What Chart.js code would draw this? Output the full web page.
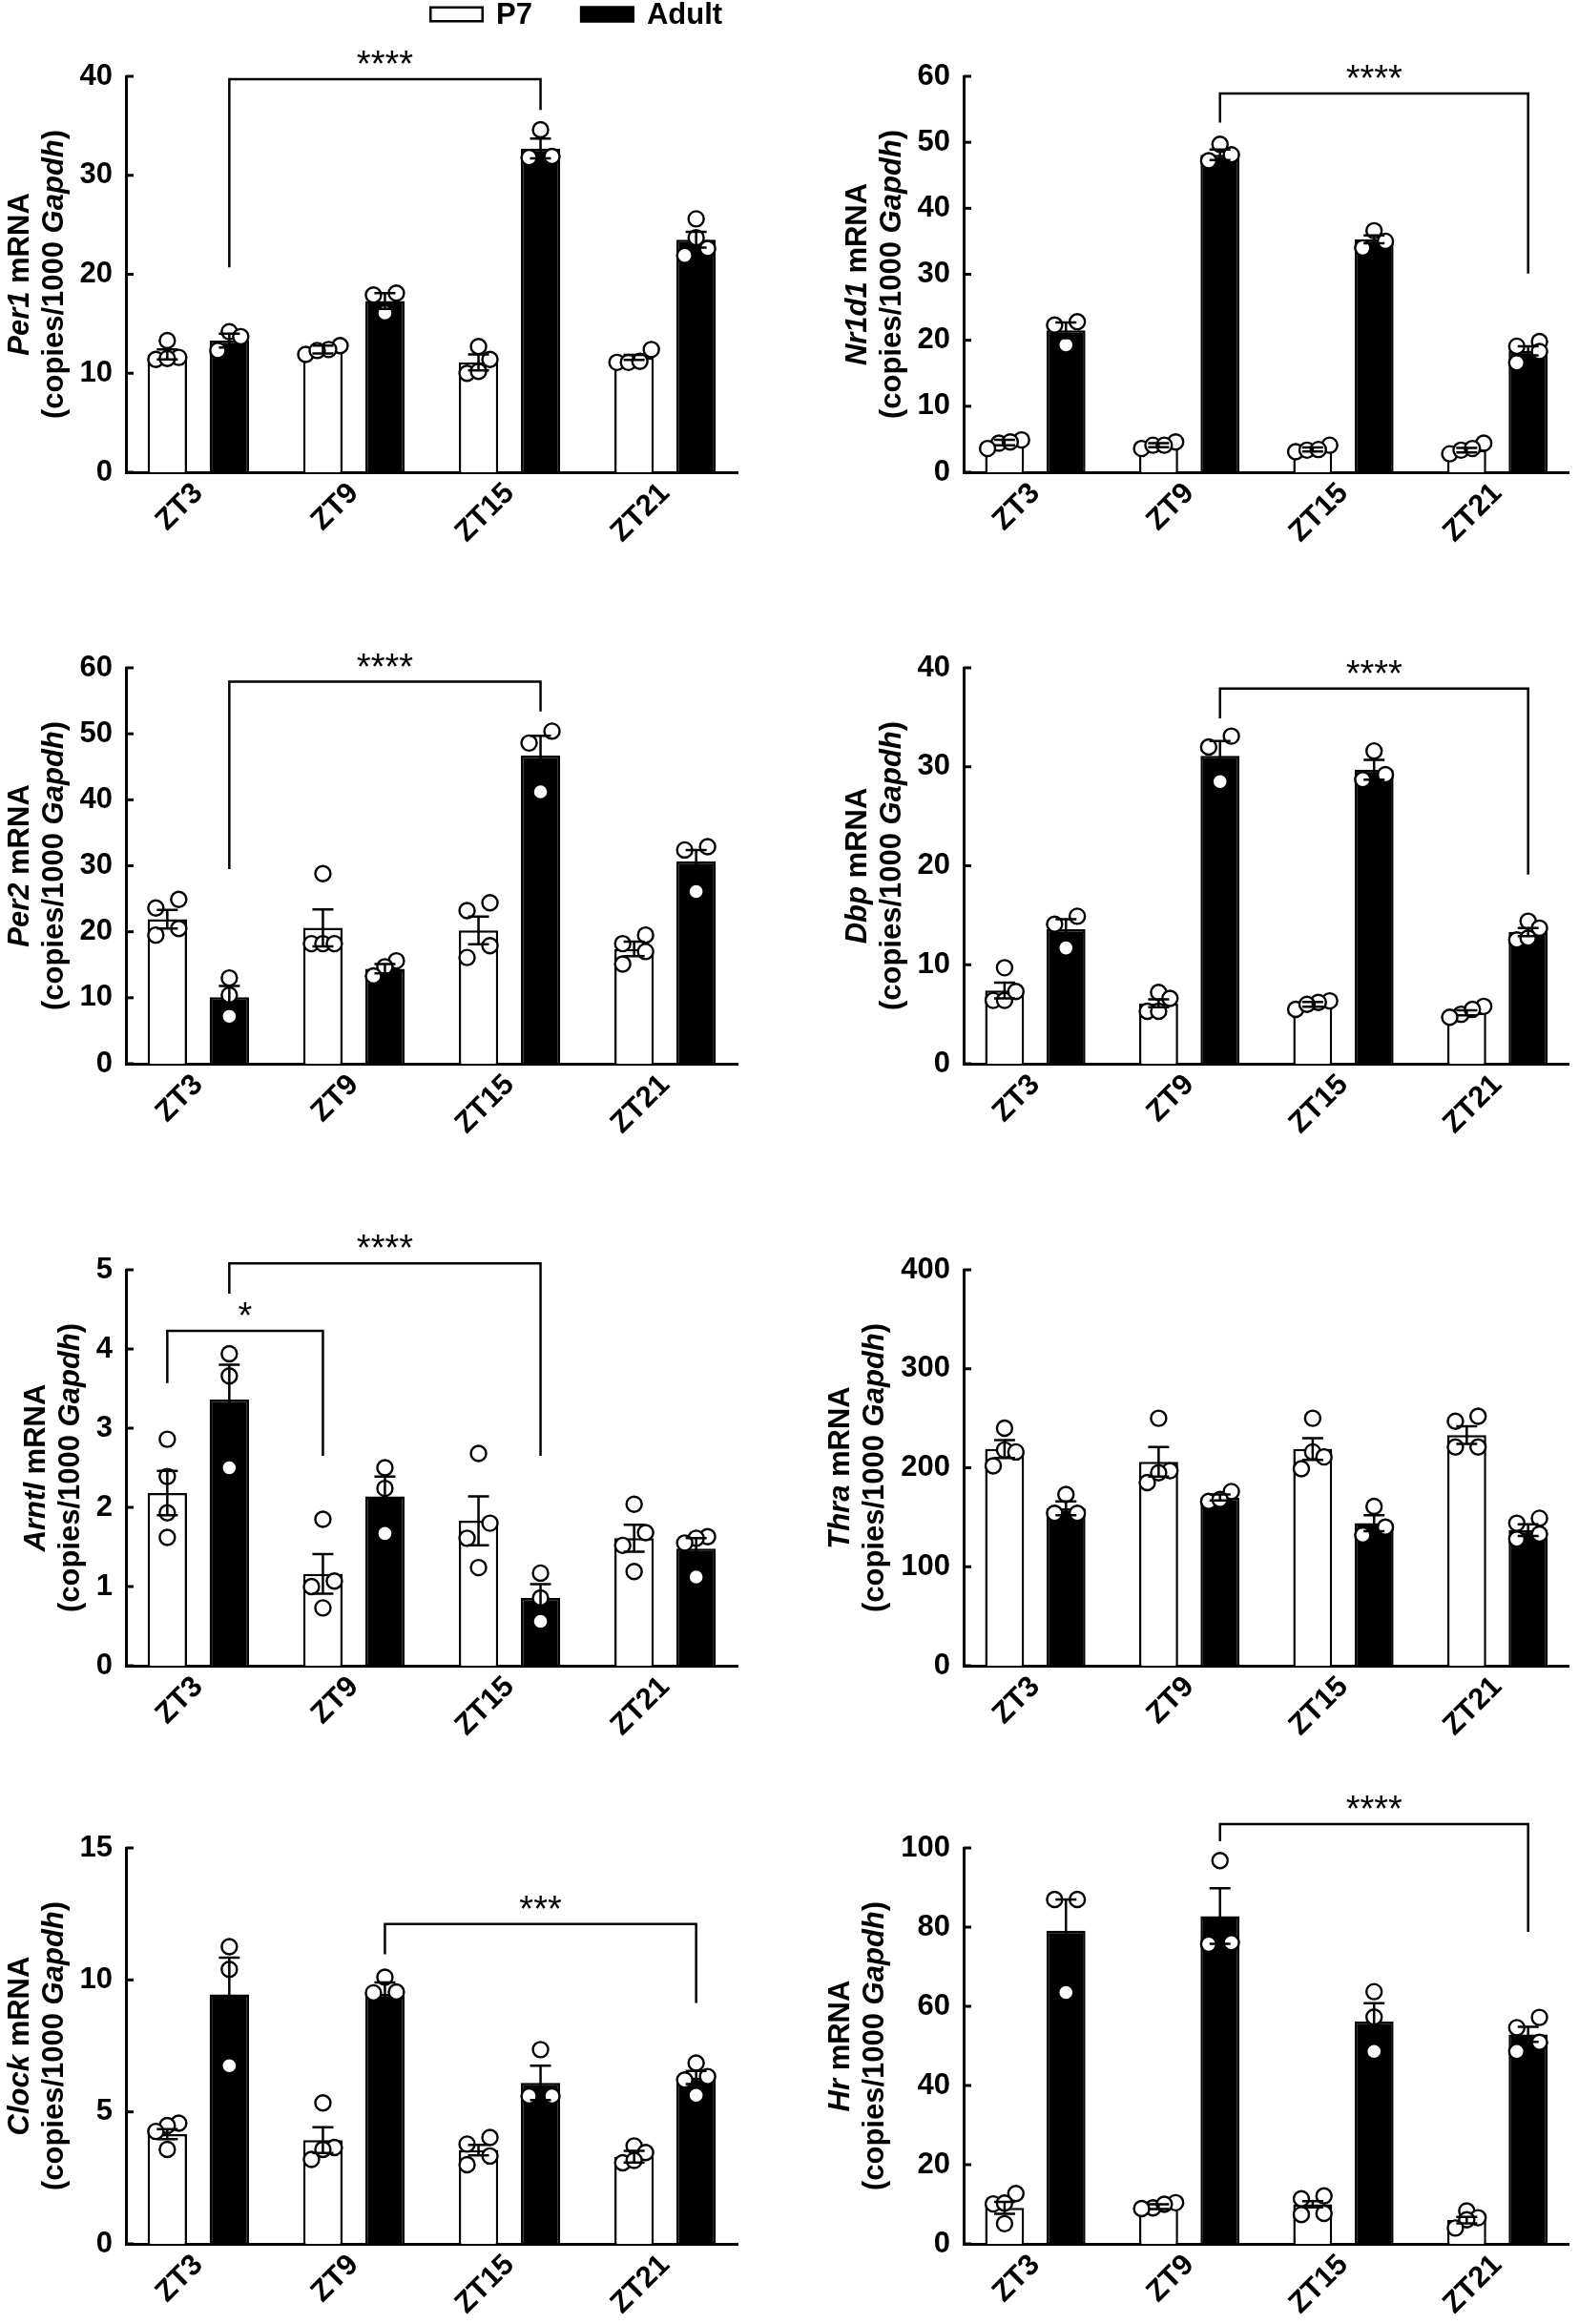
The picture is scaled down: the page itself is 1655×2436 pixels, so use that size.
<!DOCTYPE html>
<html>
<head>
<meta charset="utf-8">
<title>Clock gene mRNA, P7 vs Adult</title>
<script src="https://cdn.jsdelivr.net/npm/chart.js@4.4.1/dist/chart.umd.min.js"></script>
<style>
  body { margin: 0; background: #fff; }
  #fig { position: relative; width: 1655px; height: 2436px; background: #fff; }
  #fig canvas { position: absolute; }
</style>
</head>
<body>
<div id="fig"></div>
<script>
const zt = ['ZT3', 'ZT9', 'ZT15', 'ZT21'];
const seriesNames = ['P7', 'Adult'];

// Per1
const per1P7 = [11.9, 12.4, 11.1, 11.6];
const per1P7Sem = [0.5, 0.4, 0.8, 0.25];
const per1Adult = [13.3, 17.3, 32.7, 23.5];
const per1AdultSem = [0.7, 0.8, 1.0, 0.8];
const per1P7Pts = [[11.4, 13.3, 11.6, 11.5], [11.9, 12.8, 12.4, 12.3], [10.0, 11.4, 12.7, 10.2], [12.4, 11.1, 11.1, 11.2]];
const per1AdultPts = [[14.2, 13.7, 12.3], [18.1, 17.9, 16.1], [34.6, 31.8, 31.9], [25.6, 23.7, 22.6, 21.9]];
const per1Sig = [{ from: [0, 1], to: [2, 1], y: 39.7, ends: [20.7, 36.6], text: '****' }];

// Nr1d1
const nr1d1P7 = [4.5, 4.1, 3.45, 3.35];
const nr1d1P7Sem = [0.4, 0.3, 0.3, 0.35];
const nr1d1Adult = [21.5, 48.1, 35.3, 18.4];
const nr1d1AdultSem = [1.2, 0.8, 0.6, 0.7];
const nr1d1P7Pts = [[4.9, 4.4, 3.6, 4.6], [4.6, 3.6, 4.1, 4.1], [4.1, 3.1, 3.35, 3.45], [4.4, 2.8, 3.35, 3.6]];
const nr1d1AdultPts = [[22.8, 22.3, 19.3], [49.7, 48.1, 47.2], [36.6, 35.0, 34.0], [19.8, 19.1, 18.3, 16.6]];
const nr1d1Sig = [{ from: [1, 1], to: [3, 1], y: 57.4, ends: [53.0, 30.1], text: '****' }];

// Per2
const per2P7 = [21.9, 20.6, 20.2, 17.4];
const per2P7Sem = [1.4, 2.8, 2.1, 1.1];
const per2Adult = [10.1, 14.4, 46.7, 30.7];
const per2AdultSem = [1.7, 0.7, 3.0, 1.7];
const per2P7Pts = [[24.9, 23.6, 20.5, 19.5], [28.8, 18.2, 18.2, 18.2], [24.4, 23.2, 17.9, 16.1], [19.5, 18.2, 17.0, 15.1]];
const per2AdultPts = [[13.0, 10.4, 7.2], [15.6, 14.7, 13.3], [50.4, 48.6, 41.2], [32.9, 32.4, 26.1]];
const per2Sig = [{ from: [0, 1], to: [2, 1], y: 57.9, ends: [29.5, 53.4], text: '****' }];

// Dbp
const dbpP7 = [7.4, 6.1, 6.0, 5.15];
const dbpP7Sem = [0.8, 0.4, 0.25, 0.25];
const dbpAdult = [13.6, 31.1, 29.7, 13.3];
const dbpAdultSem = [1.0, 1.5, 1.0, 0.4];
const dbpP7Pts = [[9.7, 6.4, 6.4, 7.3], [7.2, 6.6, 5.3, 5.3], [6.35, 6.2, 5.5, 6.0], [5.8, 5.0, 5.5, 4.7]];
const dbpAdultPts = [[14.9, 14.1, 11.7], [33.1, 32.0, 28.5], [31.6, 29.2, 28.7], [14.4, 13.7, 12.5, 12.7]];
const dbpSig = [{ from: [1, 1], to: [3, 1], y: 37.9, ends: [34.9, 19.1], text: '****' }];

// Arntl
const arntlP7 = [2.18, 1.16, 1.83, 1.61];
const arntlP7Sem = [0.28, 0.25, 0.31, 0.17];
const arntlAdult = [3.36, 2.14, 0.855, 1.48];
const arntlAdultSem = [0.44, 0.25, 0.175, 0.13];
const arntlP7Pts = [[2.86, 2.39, 1.93, 1.62], [1.85, 1.07, 1.0, 0.73], [2.68, 1.80, 1.61, 1.24], [2.04, 1.68, 1.52, 1.19]];
const arntlAdultPts = [[3.94, 3.66, 2.50], [2.50, 2.24, 1.67], [1.17, 0.855, 0.56], [1.63, 1.61, 1.55, 1.12]];
const arntlSig = [
  { from: [0, 1], to: [2, 1], y: 5.08, ends: [4.70, 2.65], text: '****' },
  { from: [0, 0], to: [1, 0], y: 4.23, ends: [3.57, 2.65], text: '*' }
];

// Thra
const thraP7 = [219, 206, 219, 233];
const thraP7Sem = [9, 15, 11, 9];
const thraAdult = [159, 170, 144, 137];
const thraAdultSem = [7, 3, 8, 6];
const thraP7Pts = [[240, 218, 216, 202], [250, 197, 195, 185], [250, 216, 211, 199], [252, 247, 221, 221]];
const thraAdultPts = [[173, 154, 154], [176, 166, 168], [161, 140, 132], [149, 144, 133, 128]];
const thraSig = [];

// Clock
const clockP7 = [4.16, 3.93, 3.55, 3.3];
const clockP7Sem = [0.19, 0.49, 0.2, 0.22];
const clockAdult = [9.45, 9.47, 6.1, 6.3];
const clockAdultSem = [1.39, 0.43, 0.65, 0.25];
const clockP7Pts = [[4.57, 4.48, 4.26, 3.58], [5.34, 3.65, 3.58, 3.2], [4.03, 3.78, 3.33, 3.0], [3.71, 3.46, 3.07, 3.16]];
const clockAdultPts = [[11.26, 10.4, 6.75], [10.1, 9.54, 9.51], [7.36, 5.6, 5.6], [6.85, 6.34, 6.21, 5.63]];
const clockSig = [{ from: [1, 1], to: [3, 1], y: 12.12, ends: [10.97, 9.13], text: '***' }];

// Hr
const hrP7 = [9.1, 9.4, 10.0, 6.0];
const hrP7Sem = [1.5, 0.6, 0.8, 0.8];
const hrAdult = [79.1, 82.8, 56.2, 52.9];
const hrAdultSem = [7.9, 7.0, 4.6, 1.9];
const hrP7Pts = [[12.7, 10.1, 10.3, 5.1], [10.4, 9.1, 10.0, 8.9], [12.1, 11.4, 7.7, 7.4], [8.3, 6.6, 6.1, 4.0]];
const hrAdultPts = [[87.0, 87.0, 63.5], [96.8, 75.7, 76.1], [63.7, 57.3, 48.6], [57.2, 54.6, 50.9, 48.6]];
const hrSig = [{ from: [1, 1], to: [3, 1], y: 106.0, ends: [101.7, 78.8], text: '****' }];

const panels = [
  { gene: 'Per1', yMax: 40, step: 10, means: [per1P7, per1Adult], sems: [per1P7Sem, per1AdultSem], pts: [per1P7Pts, per1AdultPts], sig: per1Sig },
  { gene: 'Nr1d1', yMax: 60, step: 10, means: [nr1d1P7, nr1d1Adult], sems: [nr1d1P7Sem, nr1d1AdultSem], pts: [nr1d1P7Pts, nr1d1AdultPts], sig: nr1d1Sig },
  { gene: 'Per2', yMax: 60, step: 10, means: [per2P7, per2Adult], sems: [per2P7Sem, per2AdultSem], pts: [per2P7Pts, per2AdultPts], sig: per2Sig },
  { gene: 'Dbp', yMax: 40, step: 10, means: [dbpP7, dbpAdult], sems: [dbpP7Sem, dbpAdultSem], pts: [dbpP7Pts, dbpAdultPts], sig: dbpSig },
  { gene: 'Arntl', yMax: 5, step: 1, means: [arntlP7, arntlAdult], sems: [arntlP7Sem, arntlAdultSem], pts: [arntlP7Pts, arntlAdultPts], sig: arntlSig },
  { gene: 'Thra', yMax: 400, step: 100, means: [thraP7, thraAdult], sems: [thraP7Sem, thraAdultSem], pts: [thraP7Pts, thraAdultPts], sig: thraSig },
  { gene: 'Clock', yMax: 15, step: 5, means: [clockP7, clockAdult], sems: [clockP7Sem, clockAdultSem], pts: [clockP7Pts, clockAdultPts], sig: clockSig },
  { gene: 'Hr', yMax: 100, step: 20, means: [hrP7, hrAdult], sems: [hrP7Sem, hrAdultSem], pts: [hrP7Pts, hrAdultPts], sig: hrSig }
];

// page layout (pixels)
const colLeft = [0, 827], colWidth = [827, 828], axisLeft = [132, 183], padRight = [54, 4];
const rowTop = [0, 600, 1230, 1840], rowHeight = [600, 630, 610, 596];
const plotTop = [80, 100, 101, 97], xAxisHeight = [105, 115, 94, 84];

const FAMILY = "'Liberation Sans', Arial, Helvetica, sans-serif";
const TICK_FONT = 'bold 31px ' + FAMILY;
Chart.defaults.font.family = FAMILY;
Chart.defaults.color = '#000';

// rotated two-line y title with italic gene names, set off from the widest tick label
const yTitle = {
  id: 'yTitle',
  afterDraw(chart, args, opts) {
    const { ctx, chartArea } = chart;
    const ys = chart.scales.y;
    ctx.save();
    ctx.font = TICK_FONT;
    const labelW = Math.max(...ys.ticks.map(t => ctx.measureText(String(t.label)).width));
    const second = chartArea.left - 14 - labelW - 26.5;
    const xPos = [second - 36, second];
    const cy = (chartArea.top + chartArea.bottom) / 2;
    opts.lines.forEach((parts, li) => {
      ctx.save();
      ctx.translate(xPos[li], cy);
      ctx.rotate(-Math.PI / 2);
      ctx.fillStyle = '#000';
      ctx.textBaseline = 'middle';
      ctx.textAlign = 'left';
      const fonts = parts.map(p => (p.italic ? 'italic ' : '') + 'bold 31px ' + FAMILY);
      let total = 0;
      parts.forEach((p, i) => { ctx.font = fonts[i]; total += ctx.measureText(p.text).width; });
      let x = -total / 2;
      parts.forEach((p, i) => {
        ctx.font = fonts[i];
        ctx.fillText(p.text, x, 0);
        x += ctx.measureText(p.text).width;
      });
      ctx.restore();
    });
    ctx.restore();
  }
};

// short tick marks pointing into the plot
const innerTicks = {
  id: 'innerTicks',
  afterDraw(chart) {
    const { ctx, chartArea } = chart;
    const ys = chart.scales.y;
    ctx.save();
    ctx.strokeStyle = '#000';
    ctx.lineWidth = 3;
    ys.ticks.forEach(t => {
      const py = ys.getPixelForValue(t.value);
      ctx.beginPath();
      ctx.moveTo(chartArea.left, py);
      ctx.lineTo(chartArea.left + 8, py);
      ctx.stroke();
    });
    ctx.restore();
  }
};

// mean +/- SEM, drawn over the points
const errorBars = {
  id: 'errorBars',
  afterDatasetsDraw(chart, args, opts) {
    const { ctx } = chart;
    const ys = chart.scales.y;
    ctx.save();
    ctx.strokeStyle = '#000';
    ctx.lineWidth = 2.5;
    opts.sems.forEach((sem, di) => {
      chart.getDatasetMeta(di).data.forEach((bar, i) => {
        const m = chart.data.datasets[di].data[i].y;
        const hi = ys.getPixelForValue(m + sem[i]);
        const lo = ys.getPixelForValue(m - sem[i]);
        ctx.beginPath();
        ctx.moveTo(bar.x, lo); ctx.lineTo(bar.x, hi);
        ctx.moveTo(bar.x - 11, hi); ctx.lineTo(bar.x + 11, hi);
        ctx.moveTo(bar.x - 11, lo); ctx.lineTo(bar.x + 11, lo);
        ctx.stroke();
      });
    });
    ctx.restore();
  }
};

// significance brackets
const brackets = {
  id: 'brackets',
  afterDatasetsDraw(chart, args, opts) {
    const { ctx } = chart;
    const ys = chart.scales.y;
    ctx.save();
    ctx.strokeStyle = '#000';
    ctx.fillStyle = '#000';
    ctx.lineWidth = 2.5;
    opts.items.forEach(b => {
      const x1 = chart.getDatasetMeta(b.from[1]).data[b.from[0]].x;
      const x2 = chart.getDatasetMeta(b.to[1]).data[b.to[0]].x;
      const top = ys.getPixelForValue(b.y);
      ctx.beginPath();
      ctx.moveTo(x1, ys.getPixelForValue(b.ends[0]));
      ctx.lineTo(x1, top);
      ctx.lineTo(x2, top);
      ctx.lineTo(x2, ys.getPixelForValue(b.ends[1]));
      ctx.stroke();
      ctx.font = '38px ' + FAMILY;
      ctx.textAlign = 'center';
      ctx.textBaseline = 'alphabetic';
      ctx.fillText(b.text, (x1 + x2) / 2, top - 3);
    });
    ctx.restore();
  }
};

// shared legend, drawn once above the first panel
const topLegend = {
  id: 'topLegend',
  afterDraw(chart, args, opts) {
    if (!opts.show) return;
    const { ctx } = chart;
    ctx.save();
    ctx.font = 'bold 31px ' + FAMILY;
    ctx.textBaseline = 'middle';
    ctx.textAlign = 'left';
    let x = 450;
    const y = 15;
    [0, 1].forEach(di => {
      const ds = chart.data.datasets[di];
      ctx.fillStyle = ds.backgroundColor;
      ctx.fillRect(x, y - 8.5, 57, 17);
      ctx.strokeStyle = '#000';
      ctx.lineWidth = 2.5;
      ctx.strokeRect(x + 1.25, y - 7.25, 54.5, 14.5);
      ctx.fillStyle = '#000';
      ctx.fillText(ds.label, x + 70, y + 1);
      x += 70 + ctx.measureText(ds.label).width + 50;
    });
    ctx.restore();
  }
};

// spread points of similar height sideways (Prism-like scatter)
function spread(values, pxPerUnit) {
  const order = values.map((v, i) => i).sort((a, b) => values[a] - values[b]);
  const out = new Array(values.length).fill(0);
  let row = [];
  const flush = () => {
    const n = row.length, s = n === 2 ? 24 : 12;
    row.forEach((idx, k) => { out[idx] = (k - (n - 1) / 2) * s; });
    row = [];
  };
  order.forEach(idx => {
    if (row.length && (values[idx] - values[row[0]]) * pxPerUnit >= 16) flush();
    row.push(idx);
  });
  flush();
  return out;
}

const fig = document.getElementById('fig');

panels.forEach((p, pi) => {
  const col = pi % 2, row = Math.floor(pi / 2);
  const canvas = document.createElement('canvas');
  canvas.width = colWidth[col];
  canvas.height = rowHeight[row];
  canvas.style.left = colLeft[col] + 'px';
  canvas.style.top = rowTop[row] + 'px';
  fig.appendChild(canvas);

  const barData = s => p.means[s].map((v, i) => ({ x: i, y: v }));
  const pointStyle = { type: 'scatter', data: [], pointRadius: 8, pointHoverRadius: 8, borderWidth: 2.4,
    backgroundColor: '#fff', borderColor: '#000', order: 0, clip: false };

  const chart = new Chart(canvas, {
    type: 'bar',
    data: {
      datasets: [
        { label: seriesNames[0], data: barData(0), backgroundColor: '#fff', borderColor: '#000', borderWidth: 2.5, order: 2 },
        { label: seriesNames[1], data: barData(1), backgroundColor: '#000', borderColor: '#000', borderWidth: 2.5, order: 2 },
        Object.assign({ label: seriesNames[0] + ' points' }, pointStyle),
        Object.assign({ label: seriesNames[1] + ' points' }, pointStyle)
      ]
    },
    options: {
      responsive: false,
      animation: false,
      categoryPercentage: 0.797,
      barPercentage: 0.635,
      layout: { padding: { top: plotTop[row], right: padRight[col], left: 0, bottom: 0 } },
      scales: {
        x: {
          type: 'linear',
          min: -0.465,
          max: 3.465,
          offset: false,
          afterBuildTicks: scale => { scale.ticks = zt.map((z, i) => ({ value: i })); },
          afterFit: scale => { scale.height = xAxisHeight[row]; },
          ticks: {
            callback: v => zt[v],
            minRotation: 45,
            maxRotation: 45,
            padding: 4,
            font: { size: 31, weight: 'bold' },
            color: '#000'
          },
          grid: { display: false, drawTicks: false },
          border: { display: true, width: 3, color: '#000' }
        },
        y: {
          min: 0,
          max: p.yMax,
          afterFit: scale => { scale.width = axisLeft[col]; },
          ticks: { stepSize: p.step, padding: 14, font: { size: 31, weight: 'bold' }, color: '#000' },
          grid: { display: false, drawTicks: false },
          border: { display: true, width: 3, color: '#000' }
        }
      },
      plugins: {
        legend: { display: false },
        tooltip: { enabled: false },
        yTitle: {
          lines: [
            [{ text: p.gene, italic: true }, { text: ' mRNA', italic: false }],
            [{ text: '(copies/1000 ', italic: false }, { text: 'Gapdh', italic: true }, { text: ')', italic: false }]
          ]
        },
        errorBars: { sems: p.sems },
        brackets: { items: p.sig },
        topLegend: { show: pi === 0 }
      }
    },
    plugins: [yTitle, innerTicks, errorBars, brackets, topLegend]
  });

  // place the individual points next to their bars
  const xs = chart.scales.x, ys = chart.scales.y;
  const pxPerUnit = ys.getPixelForValue(0) - ys.getPixelForValue(1);
  [0, 1].forEach(s => {
    const bars = chart.getDatasetMeta(s).data;
    const pts = [];
    p.pts[s].forEach((vals, g) => {
      const off = spread(vals, pxPerUnit);
      vals.forEach((v, k) => pts.push({ x: xs.getValueForPixel(bars[g].x + off[k]), y: v }));
    });
    chart.data.datasets[2 + s].data = pts;
  });
  chart.update('none');
});
</script>
</body>
</html>
